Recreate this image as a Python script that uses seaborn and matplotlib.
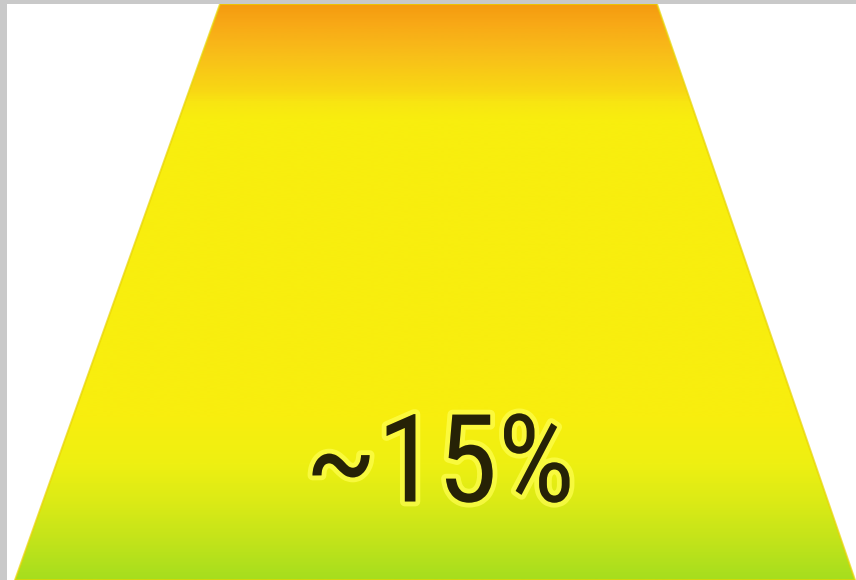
import numpy as np
import matplotlib
matplotlib.use("Agg")
import matplotlib.pyplot as plt
from matplotlib import font_manager
from matplotlib.patches import Polygon
from matplotlib.colors import LinearSegmentedColormap
import matplotlib.patheffects as pe
import seaborn as sns

# Funnel stage shown in this panel
stage_labels = ["~15%"]
stage_values = [15]

# Vertical colour ramp of the stage fill (position 0 = top, 1 = bottom)
ramp_positions = [0.0, 0.03, 0.06, 0.09, 0.12, 0.15, 0.17, 0.20, 0.72, 0.80, 0.87, 0.93, 1.0]
ramp_colors = ["#F59C10", "#F8A816", "#F8B418", "#F8C019", "#F8CC16", "#F8D814",
               "#F8E612", "#F8EE0E", "#F8EE0E", "#EEF012", "#DAEA16", "#C4E41A", "#A6DE1E"]

sns.set_theme(style="white")

# Prefer a narrow face for the stage label
installed = {f.name for f in font_manager.fontManager.ttflist}
label_family, label_size = "Liberation Sans", 80
for fam, size in [("Liberation Sans Narrow", 92), ("Roboto Condensed", 88),
                  ("DejaVu Sans Condensed", 80)]:
    if fam in installed:
        label_family, label_size = fam, size
        break
plt.rcParams["font.family"] = [label_family, "DejaVu Sans"]

W, H = 856, 580
fig = plt.figure(figsize=(W / 100, H / 100), dpi=100, facecolor="#C9C9C9")
ax = fig.add_axes([7 / W, 0, 1 - 7 / W, 1 - 4 / H])
ax.set_facecolor("white")
x0 = 7
ax.set_xticks([])
ax.set_yticks([])
sns.despine(ax=ax, left=True, bottom=True)

# Gradient built from a seaborn palette, pinned at the ramp positions
cmap = LinearSegmentedColormap.from_list(
    "stage", list(zip(ramp_positions, sns.color_palette(ramp_colors, len(ramp_colors)))))
grad = np.linspace(0, 1, 600).reshape(-1, 1)

top_y, bot_y = 4, 580
corners = [(220, top_y), (657, top_y), (855, bot_y), (15, bot_y)]
shape = Polygon(corners, closed=True, facecolor="none", edgecolor="none")
ax.add_patch(shape)
img = ax.imshow(grad, cmap=cmap, aspect="auto", extent=(0, W, bot_y, top_y),
                interpolation="bilinear")
img.set_clip_path(shape)
ax.set_xlim(x0, W)
ax.set_ylim(H, 4)

edge = Polygon(corners, closed=True, facecolor="none", edgecolor="#E8D400",
               linewidth=1.4, alpha=0.7)
ax.add_patch(edge)

for label, value in zip(stage_labels, stage_values):
    ax.text(440, 468, f"~{value}%", ha="center", va="center", fontsize=label_size,
            color="#262206",
            path_effects=[pe.withStroke(linewidth=7, foreground="#FFFF50", alpha=0.7)])

fig.savefig("out.png", dpi=100, facecolor=fig.get_facecolor())
